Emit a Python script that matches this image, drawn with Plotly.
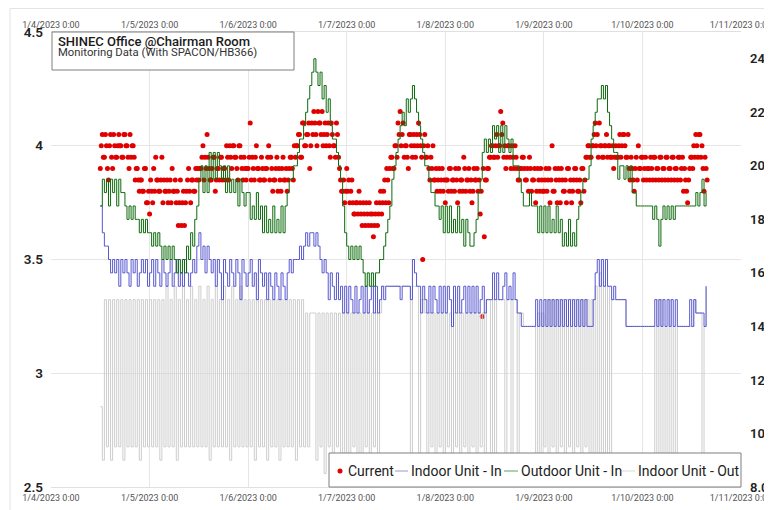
import pandas as pd
import plotly.graph_objects as go

# ---------------- data ----------------
start_time = "2023-01-04 12:00"
temp_step = "30min"      # temperature samples
current_step = "15min"   # current samples

# Current (A) - left axis. Two interleaved readings per 30 minutes (:00/:30 and :15/:45),
# one string per 12 hours.
current_a_blocks = [
    "3.9 4.05 3.95 4.0 3.85 4.05 3.9 4.0 3.95 4.05 4.0 3.95 4.05 4.0 3.9 3.95 4.0 3.85 3.9 3.8 3.85 3.8 3.9 3.75",
    "3.7 3.8 3.9 3.95 3.85 3.8 3.95 3.85 3.8 3.75 3.85 3.9 3.8 3.75 3.65 3.85 3.75 3.65 3.8 3.9 3.75 3.85 3.8 3.85",
    "3.85 3.9 4.0 3.95 4.05 3.9 3.85 3.95 3.8 3.9 3.85 3.95 3.9 3.85 3.95 4.0 3.9 4.0 3.95 3.85 4.0 3.9 3.95 3.85",
    "3.9 4.1 3.95 3.85 4.0 3.9 3.85 3.9 3.85 3.9 4.0 3.95 3.8 3.85 3.95 3.9 3.8 3.95 3.85 3.8 3.9 3.95 3.85 3.95",
    "4.0 4.05 3.95 4.1 4.0 4.05 3.9 4.1 4.15 4.05 4.15 4.1 4.15 4.05 4.0 4.1 3.95 4.05 4.0 4.1 3.95 3.85 3.8 3.75",
    "3.9 3.85 3.8 3.75 3.7 3.75 3.8 3.7 3.75 3.65 3.7 3.75 3.65 3.6 3.7 3.65 3.75 3.7 3.8 3.75 3.85 3.9 3.95 3.9",
    "4.0 4.1 4.15 4.05 3.95 4.0 3.9 4.05 3.95 4.0 4.05 4.1 4.0 3.5 4.05 3.95 3.9 3.95 4.0 3.85 3.8 3.9 3.85 3.8",
    "3.75 3.85 3.9 3.8 3.85 3.9 3.75 3.8 3.85 3.95 3.8 3.85 3.8 3.75 3.9 3.85 3.8 3.7 3.25 3.6 3.85 3.9 3.95 4.0",
    "3.95 4.05 4.0 4.15 4.1 4.0 3.95 4.0 3.9 3.95 4.0 3.9 3.85 3.9 3.95 3.85 3.9 3.95 3.8 3.85 3.75 3.9 3.8 3.85",
    "3.8 3.9 3.85 3.75 4.0 3.8 3.85 3.9 3.75 3.85 3.8 3.75 3.9 3.85 3.8 3.9 3.85 3.8 3.75 3.9 3.85 3.95 4.0 3.95",
    "4.0 4.1 4.05 4.1 4.0 3.95 4.0 3.95 4.0 3.95 3.9 4.0 3.95 4.05 4.0 4.05 3.95 4.05 3.85 3.9 3.8 3.95 4.0 3.9",
    "3.95 3.9 3.85 3.9 3.95 3.85 3.95 3.9 3.85 3.95 3.9 3.85 3.95 3.9 3.85 3.95 3.9 3.85 3.95 3.9 3.8 3.85 3.75 3.9",
    "3.95 4.0 4.05 3.95 4.05 4.0 3.8 3.9",
]
current_b_blocks = [
    "4.0 3.95 4.05 3.9 4.0 3.95 4.05 3.95 4.0 4.0 3.95 4.05 4.0 3.95 4.05 4.0 3.95 3.9 3.85 3.85 3.8 3.9 3.75 3.8",
    "3.85 3.75 3.8 3.85 3.8 3.85 3.75 3.8 3.85 3.8 3.75 3.8 3.85 3.8 3.75 3.65 3.8 3.75 3.85 3.8 3.85 3.8 3.9 3.9",
    "3.9 3.95 3.85 3.9 3.95 3.85 3.9 3.95 3.85 3.9 3.95 3.85 3.9 4.0 3.85 3.95 4.0 3.95 3.9 4.0 3.95 3.85 3.9 3.9",
    "3.95 3.85 3.9 3.95 3.9 3.85 3.95 3.85 3.9 3.95 3.85 3.9 3.85 3.9 3.8 3.85 3.9 3.85 3.9 3.85 3.95 3.9 4.0 4.0",
    "4.05 3.95 4.1 4.0 4.05 4.1 4.0 4.05 4.1 4.0 4.1 4.05 4.0 4.1 4.05 4.0 4.1 4.0 3.95 4.05 3.9 3.8 3.85 3.8",
    "3.8 3.75 3.85 3.7 3.75 3.7 3.75 3.65 3.7 3.75 3.65 3.7 3.7 3.65 3.75 3.7 3.8 3.75 3.85 3.9 3.75 3.95 3.9 4.0",
    "3.95 4.05 4.0 4.1 4.0 3.95 4.05 4.0 4.05 3.95 4.0 4.05 3.95 4.0 3.95 4.0 3.85 3.9 3.85 3.9 3.85 3.8 3.9 3.85",
    "3.85 3.8 3.9 3.85 3.8 3.85 3.9 3.85 3.8 3.9 3.85 3.9 3.85 3.8 3.85 3.9 3.85 3.8 3.9 3.85 3.9 3.95 4.0 3.95",
    "4.0 3.95 4.0 4.05 3.95 3.9 4.0 3.95 4.0 3.9 3.95 3.85 3.9 3.95 3.9 3.85 3.8 3.9 3.85 3.9 3.8 3.85 3.9 3.8",
    "3.85 3.8 3.9 3.85 3.8 3.9 3.75 3.85 3.9 3.8 3.85 3.9 3.8 3.75 3.85 3.9 3.8 3.85 3.9 3.8 3.95 4.0 3.95 4.0",
    "4.05 4.0 3.95 4.0 3.95 4.0 4.05 4.0 3.95 4.0 3.95 3.95 4.0 3.95 4.05 4.0 3.95 3.9 3.95 3.85 3.9 3.85 3.9 3.95",
    "3.85 3.95 3.9 3.85 3.9 3.95 3.85 3.9 3.95 3.85 3.9 3.95 3.85 3.9 3.95 3.85 3.9 3.95 3.85 3.95 3.9 3.8 3.85 3.95",
    "3.9 3.95 4.0 4.05 3.95 3.9 3.95 3.85",
]

# Indoor Unit - In (deg C) - right axis
indoor_in_blocks = [
    "18.5 17.5 17 17 16.5 16 16.5 16 16.5 15.5 16.5 16 16.5 16 15.5 16.5 16 16.5 15.5 16 16.5 16 16.5 15.5",
    "16 16.5 15.5 16.5 16 15.5 16.5 16 15.5 16 16.5 15.5 16 16.5 15.5 16 15.5 16.5 16 15.5 16 16.5 16 17",
    "17.5 16.5 17 16 17 16.5 16 16.5 15.5 16.5 16 15 16.5 16 15.5 16.5 16 15.5 16.5 16 15 16.5 16 15.5",
    "16 16.5 15.5 16 15 16.5 16 15.5 16 15 16 15.5 15 16 15.5 15 16 15.5 15 16 16.5 16 16.5 16.5",
    "16.5 17 16.5 17 17.5 17 17.5 17.5 17 17.5 17 16.5 16 16.5 16 15 16 15.5 15 16 15 15.5 14.5 15.5",
    "14.5 15.5 15 14.5 15.5 14.5 15 15.5 14.5 15.5 14.5 15 15.5 14.5 15.5 14.5 15 15.5 15 15.5 15.5 15.5 15.5 15.5",
    "15.5 15.5 15 15.5 15.5 15.5 15.5 15 16.5 16 15.5 15.5 14.5 15.5 15 14.5 15.5 14.5 15.5 15 14.5 15.5 14.5 15.5",
    "14.5 15.5 15 14 15.5 14.5 15.5 14.5 15 15.5 14.5 15.5 14.5 15.5 14.5 15.5 14.5 15 15.5 14.5 15 15 15 16",
    "15 16 15 15 15.5 16 15 15.5 15 16 15 14.5 14.5 14 14 14 14 14 14 14 15 14 15 14",
    "15 14 15 14 15 14 15 14 15 14 15 14 15 14 15 14 15 14 15 14 15 14 14 14",
    "15 16 16.5 15.5 16.5 15.5 16.5 15.5 15.5 15 15.5 15 15 15 15 15 14 14 14 14 14 14 14 14",
    "14 14 14 14 14 14 15 14 15 14 15 14 15 14 15 14 15 14 14 14 14 14 14 15",
    "14 15 14.5 14.5 14.5 14.5 14 15.5",
]

# Outdoor Unit - In (deg C) - right axis
outdoor_in_blocks = [
    "18.5 19.5 19 19.5 18.5 19.5 19 19.5 18.5 19.5 19 19 18.5 18 18.5 18 18.5 18 18 17.5 18 17.5 18 17.5",
    "17.5 17 17.5 17 17.5 17 16.5 17 16.5 17 16.5 17 16.5 16 16.5 16 16.5 16 17 16.5 17.5 17 18 18.5",
    "19.5 20 19 20 19 20.5 19.5 20.5 19.5 20.5 20 19.5 20 19 20 19 19.5 19 19.5 18.5 19.5 19 18.5 19",
    "19 18 18.5 18 19 18 18.5 17.5 18.5 17.5 18 17.5 18.5 17.5 18 17.5 18.5 17.5 18.5 19 19.5 19.5 20 20",
    "20.5 21 21 21.5 22 22.5 23 23.5 24 23.5 23 23.5 22.5 23 22 22.5 21.5 21 21 20.5 20 19.5 18.5 17.5",
    "17 16.5 17 16.5 17 16.5 17 16.5 16 15.5 16 15.5 16 15.5 16 16 16.5 16.5 17 17.5 18 18.5 19.5 20",
    "20.5 21 21.5 22 21.5 22.5 22 22.5 23 22.5 22 21.5 21 20.5 20 20 19.5 19 19 18.5 18.5 18 18.5 17.5",
    "18.5 17.5 18.5 17.5 18 17.5 18.5 17.5 18 17 18 17.5 17 17 17.5 18 19 19.5 20.5 21 20.5 21 20.5 21.5",
    "21 21.5 20.5 21.5 20.5 21.5 21 20.5 21 20 20 20 19.5 19 18.5 18.5 18.5 19 18.5 18.5 18.5 17.5 18.5 17.5",
    "18.5 17.5 18.5 17.5 18 17.5 18.5 17.5 18 17 17.5 17 18 17 17.5 17 18 18.5 19 19.5 19.5 19.5 20 21",
    "21.5 22 22.5 22.5 23 22.5 23 22 21.5 21 20.5 20.5 19.5 20 20 19.5 20 19.5 20 19 19 18.5 18.5 18.5",
    "18.5 18.5 18.5 18.5 18.5 18 18.5 18 17 18 18.5 18 18.5 18 18.5 18 18.5 18.5 18.5 18.5 18.5 18.5 18.5 18.5",
    "18.5 18.5 19 18.5 19 19.5 18.5 19",
]

# Indoor Unit - Out (deg C) - right axis
indoor_out_blocks = [
    "11 9 15 9.5 15 9 15 9.5 15 9.5 15 9 15 9.5 15 9.5 15 9.5 15 9 15 9.5 15 9.5",
    "15 9.5 15 9.5 15 9 15 9.5 15.5 9.5 15 9.5 15.5 9 15 9.5 15.5 9.5 15 9.5 15.5 9.5 15 9.5",
    "15.5 9.5 15 9.5 15.5 9 15 9.5 15.5 9.5 15 9.5 15.5 9.5 15 9 15.5 9.5 15 9.5 15.5 9.5 15 9.5",
    "15 9.5 15 9 15 9.5 15 9.5 15 9 15 9.5 15 9.5 15 9 15 9.5 15 9.5 15 9.5 15 9",
    "15 9.5 15 9.5 14.5 9.5 14.5 14.5 14.5 9 14.5 9.5 14.5 8.5 14.5 9.5 14.5 9 14.5 9.5 14.5 8.5 14.5 9",
    "14.5 9 14.5 9.5 14.5 9 14.5 8.5 14.5 9.5 14.5 9 14.5 9.5 14.5 9 14.5 15.5 15.5 15.5 15.5 15.5 15.5 15.5",
    "15.5 15.5 15.5 15.5 15.5 15.5 15.5 9 15.5 15.5 15.5 9 15 15 14.5 9 14.5 9.5 14.5 9 14.5 9.5 14.5 9",
    "14.5 9.5 14.5 9 14.5 9.5 14.5 9 14.5 9.5 14.5 9 14.5 9.5 14.5 9 14.5 9.5 14.5 9 15 15 9 15",
    "9 15 15 15 15 9 15 15 9 15 15 9 14.5 14.5 14 14 14 14 14 14 9 14.5 9 14.5",
    "9.5 15 9 15 9.5 15 9 15 9.5 15 9 15 9.5 15 9 15 9.5 15 9 15 9.5 15 9 15",
    "9 15.5 9 16 9 15.5 9 15.5 9 15 15 15 15 15 15 15 14 14 14 14 14 14 14 14",
    "14 14 14 14 14 14 9 15 9 15 9 14 9 15 9 14 9 14 14 14 14 14 14 14",
    "14 15 14.5 14.5 14.5 9 14 15.5",
]

x_range = ["2023-01-04", "2023-01-11"]
left_ticks = [2.5, 3, 3.5, 4, 4.5]
left_tick_text = ["2.5", "3", "3.5", "4", "4.5"]
right_ticks = [8, 10, 12, 14, 16, 18, 20, 22, 24]
right_range = [8, 25]

title_main = "SHINEC Office @Chairman Room"
title_sub = "Monitoring Data (With SPACON/HB366)"
series_names = ["Current", "Indoor Unit - In", "Outdoor Unit - In", "Indoor Unit - Out"]
series_colors = ["#e00000", "#4646cc", "#0d6a0d", "#cdcdcd"]
legend_sample_colors = ["#e00000", "#b9b9e6", "#8fc48f", "#e6e6e6"]


def parse(blocks):
    return [float(v) for b in blocks for v in b.split()]


cur_a = parse(current_a_blocks)
cur_b = parse(current_b_blocks)
current = [v for pair in zip(cur_a, cur_b) for v in pair]
indoor_in = parse(indoor_in_blocks)
outdoor_in = parse(outdoor_in_blocks)
indoor_out = parse(indoor_out_blocks)
n = len(indoor_in)
assert n == len(outdoor_in) == len(indoor_out) == len(cur_a) == len(cur_b)
t_temp = pd.date_range(start_time, periods=n, freq=temp_step)
t_cur = pd.date_range(start_time, periods=len(current), freq=current_step)

FONT = "Roboto, Liberation Sans, DejaVu Sans, sans-serif"

# ---------------- figure ----------------
# The page body has an 8px margin, so the figure is laid out in a 764x502 box.
OFF = 8
W, H = 772 - OFF, 510 - OFF
ML, MT = 51 - OFF, 32 - OFF
MR = W - (741 - OFF)
MB = H - (487 - OFF)
PW, PH = W - ML - MR, H - MT - MB


def px_x(px):
    """screen x of the reference -> paper x"""
    return (px - OFF - ML) / PW


def px_y(py):
    """screen y of the reference -> paper y"""
    return (H - MB - (py - OFF)) / PH


fig = go.Figure()

fig.add_trace(go.Scatter(
    x=t_temp, y=indoor_out, name=series_names[3], mode="lines",
    line=dict(color=series_colors[3], width=1, shape="hv"), yaxis="y2", showlegend=False))
fig.add_trace(go.Scatter(
    x=t_temp, y=indoor_in, name=series_names[1], mode="lines",
    line=dict(color=series_colors[1], width=0.9, shape="hv"), yaxis="y2", showlegend=False))
fig.add_trace(go.Scatter(
    x=t_temp, y=outdoor_in, name=series_names[2], mode="lines",
    line=dict(color=series_colors[2], width=1, shape="hv"), yaxis="y2", showlegend=False))
fig.add_trace(go.Scatter(
    x=t_cur, y=current, name=series_names[0], mode="markers",
    marker=dict(color=series_colors[0], size=5), showlegend=False))
# invisible helper trace so the top date axis is drawn
fig.add_trace(go.Scatter(
    x=[t_temp[0]], y=[None], xaxis="x2", showlegend=False, hoverinfo="skip",
    mode="markers", marker=dict(opacity=0)))

tick_common = dict(
    type="date", range=x_range, tick0=x_range[0], dtick=86400000,
    tickformat="%-m/%-d/%Y %-H:%M", ticks="", automargin=False,
    ticklabeloverflow="allow",
    tickfont=dict(family=FONT, size=9, color="#555555"),
)

fig.update_layout(
    width=W, height=H,
    margin=dict(l=ML, r=MR, t=MT, b=MB, pad=0, autoexpand=False),
    paper_bgcolor="white", plot_bgcolor="white",
    font=dict(family=FONT, color="#222222"),
    xaxis=dict(**tick_common, showgrid=True, gridcolor="#e6e6e6", gridwidth=1,
               showline=True, linecolor="#e0e0e0", mirror=True, zeroline=False,
               ticklabelstandoff=2),
    xaxis2=dict(**tick_common, overlaying="x", side="top", matches="x",
                showgrid=False, showline=False, zeroline=False, ticklabelstandoff=1),
    yaxis=dict(range=[left_ticks[0], left_ticks[-1]], tickvals=left_ticks,
               ticktext=left_tick_text, showgrid=True, gridcolor="#e6e6e6",
               zeroline=False, ticks="", automargin=False, ticklabelstandoff=7,
               ticklabeloverflow="allow",
               tickfont=dict(family=FONT, size=13.5, color="#222222", weight=600)),
    yaxis2=dict(range=right_range, tickvals=right_ticks, tickformat=".1f",
                overlaying="y", side="right", showgrid=False, zeroline=False,
                ticks="", automargin=False, ticklabelstandoff=8,
                ticklabeloverflow="allow",
                tickfont=dict(family=FONT, size=13, color="#222222", weight=600)),
    showlegend=False,
)

# outer card frame
fig.add_shape(type="rect", xref="paper", yref="paper",
              x0=px_x(10), x1=px_x(800), y0=px_y(530), y1=px_y(8.5),
              line=dict(color="#e4e4e4", width=1), layer="below")
# title box
fig.add_shape(type="rect", xref="paper", yref="paper",
              x0=px_x(52), x1=px_x(294), y0=px_y(70), y1=px_y(32),
              line=dict(color="#7f7f7f", width=1), fillcolor="white", layer="above")
fig.add_annotation(xref="paper", yref="paper", x=px_x(56), y=px_y(41),
                   xanchor="left", yanchor="middle", showarrow=False,
                   text=title_main,
                   font=dict(family=FONT, size=13, color="#1a1a1a", weight=500))
fig.add_annotation(xref="paper", yref="paper", x=px_x(56), y=px_y(53),
                   xanchor="left", yanchor="middle", showarrow=False,
                   text=title_sub,
                   font=dict(family=FONT, size=11.3, color="#333333"))

# legend box (drawn to match the compact legend of the original)
LEG_Y = 471
fig.add_shape(type="rect", xref="paper", yref="paper",
              x0=px_x(329), x1=px_x(741), y0=px_y(487), y1=px_y(453),
              line=dict(color="#7f7f7f", width=1), fillcolor="white", layer="above")
fig.add_shape(type="circle", xref="paper", yref="paper",
              x0=px_x(337.5), x1=px_x(342.5), y0=px_y(473.5), y1=px_y(468.5),
              line=dict(width=0), fillcolor=legend_sample_colors[0], layer="above")
sample_spans = [(395, 408), (504, 518), (622, 635)]
for (a, b), col in zip(sample_spans, legend_sample_colors[1:]):
    fig.add_shape(type="line", xref="paper", yref="paper",
                  x0=px_x(a), x1=px_x(b), y0=px_y(LEG_Y), y1=px_y(LEG_Y),
                  line=dict(color=col, width=1.5), layer="above")
text_x = [346, 409, 519, 636]
for name, tx in zip(series_names, text_x):
    fig.add_annotation(xref="paper", yref="paper", x=px_x(tx), y=px_y(LEG_Y),
                       xanchor="left", yanchor="middle", showarrow=False, text=name,
                       font=dict(family=FONT, size=14, color="#222222"))

fig.write_html("out.html")
